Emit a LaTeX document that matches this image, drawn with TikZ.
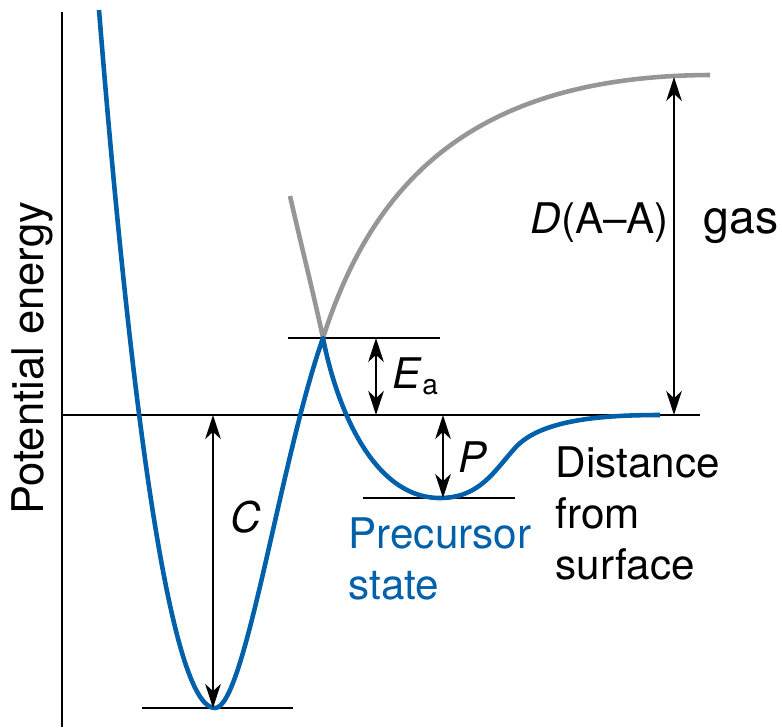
\documentclass[tikz,border=0pt]{standalone}
\usepackage{fontspec}
\setmainfont{TeX Gyre Heros}
\usepackage{tikz}
\usetikzlibrary{arrows.meta}
\definecolor{wellblue}{RGB}{0,96,170}
\definecolor{gasgray}{RGB}{150,150,150}

\begin{document}
\begin{tikzpicture}[
  x=0.01cm, y=-0.01cm,
  font=\fontsize{12}{14.5}\selectfont,
  level/.style={draw, line width=0.7pt},
  curve/.style={line width=1.3pt, line join=round, line cap=butt},
  dim/.style={<->, line width=0.7pt},
  lbl/.style={inner sep=0pt},
  >={Stealth[length=6.8pt, width=4.4pt, inset=2pt]},
]
\useasboundingbox (0,0) rectangle (782,727);

% levels and axes
\coordinate (axtop) at (62,12);
\coordinate (axbot) at (62,727);
\coordinate (zeroL) at (62,415);
\coordinate (zeroR) at (700,415);
\coordinate (peak) at (323,338);
\coordinate (cmin) at (215,708);
\coordinate (pmin) at (440,498);
\coordinate (gastop) at (710,75);

\draw[level] (axtop) -- (axbot);
\draw[level] (zeroL) -- (zeroR);
\draw[level] (288,338) -- (440,338);
\draw[level] (363,498) -- (515,498);
\draw[level] (142,708) -- (293,708);

% gas-phase curve
\draw[curve, gasgray] (290,196) .. controls (300,240) and (315,300) .. (peak)
  .. controls (375,175) and (480,76) .. (gastop);

% surface curve
\draw[curve, wellblue] (99,10) .. controls (140,520) and (180,708) .. (cmin)
  .. controls (245,708) and (280,460) .. (peak)
  .. controls (335,400) and (370,498) .. (pmin)
  .. controls (480,498) and (495,470) .. (515,448)
  .. controls (540,420) and (600,415) .. (660,415);

% energy differences
\coordinate (ctop) at (213,415);
\coordinate (cbot) at (213,708);
\coordinate (eatop) at (376,338);
\coordinate (eabot) at (376,415);
\coordinate (ptop) at (443,415);
\coordinate (pbot) at (443,498);
\coordinate (dtop) at (674,77);
\coordinate (dbot) at (674,415);
\draw[dim] (ctop) -- (cbot);
\draw[dim] (eatop) -- (eabot);
\draw[dim] (ptop) -- (pbot);
\draw[dim] (dtop) -- (dbot);

% labels
\node[lbl, rotate=90, anchor=base, font=\fontsize{12.4}{15}\selectfont] (ylab) at (44,358) {Potential energy};
\node[lbl, anchor=base west] (clab) at (230,532) {\itshape C};
\node[lbl, anchor=base west] (ealab) at (392,388) {\textit{E}\textsubscript{a}};
\node[lbl, anchor=base west] (plab) at (458,472) {\itshape P};
\node[lbl, anchor=base west] (dlab) at (530,233) {\textit{D}(A--A)};
\node[lbl, anchor=base west, font=\fontsize{13.2}{15}\selectfont] (gas) at (703,233) {gas};
\node[lbl, anchor=north west, align=left, text=wellblue] (prec) at (348,517) {Precursor\\state};
\node[lbl, anchor=north west, align=left] (dist) at (555,446) {Distance\\from\\surface};
\end{tikzpicture}
\end{document}
